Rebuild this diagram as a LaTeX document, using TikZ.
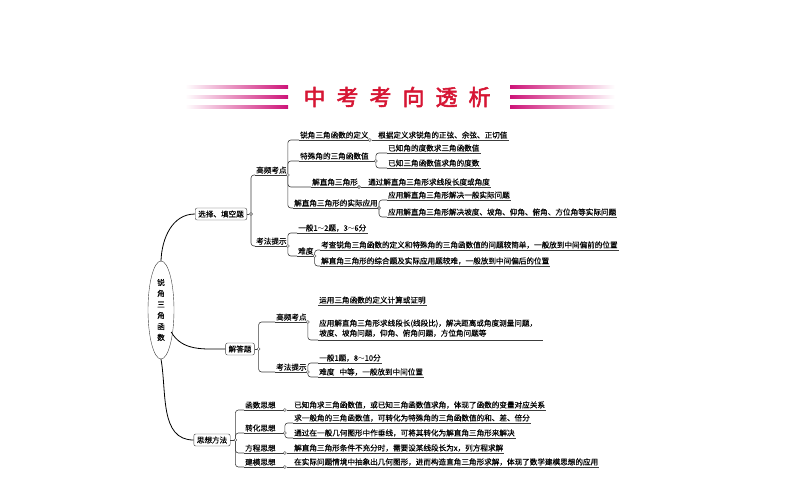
\documentclass[tikz,border=0pt]{standalone}
\usepackage{fontspec}
\setmainfont[FakeBold=0.3]{Noto Sans CJK SC}
\newfontfamily\titlefont[FakeBold=2.5]{Noto Sans CJK SC}
\usetikzlibrary{positioning, calc, shapes.geometric}
\definecolor{titlered}{RGB}{214,22,52}
\definecolor{stripe}{RGB}{205,20,120}
\definecolor{linegray}{RGB}{60,60,60}

\begin{document}
\begin{tikzpicture}[x=1pt, y=1pt, >=stealth]
    \tikzset{
        lf/.style={anchor=south west, inner xsep=1pt, inner ysep=1.2pt, font=\fontsize{7.6}{10}\selectfont, align=left},
        box/.style={draw=linegray, rounded corners=2pt, inner xsep=3pt, inner ysep=2.5pt, font=\fontsize{7.6}{9}\selectfont},
        uline/.style={draw=linegray, line width=0.6pt},
        branch/.style={draw=linegray, line width=0.6pt, rounded corners=3pt},
        dot/.style={circle, draw=linegray, fill=white, inner sep=0pt, minimum size=3pt},
        stripeL/.style={left color=white, right color=stripe},
        stripeR/.style={left color=stripe, right color=white}
    }
    \useasboundingbox (0,0) rectangle (794,-495);

    % title
    \node[font=\titlefont\fontsize{22}{24}\selectfont, text=titlered] (title) at (397,-97)
        {中\hspace{11pt}考\hspace{11pt}考\hspace{11pt}向\hspace{11pt}透\hspace{11pt}析};
    \foreach \yy in {-87,-97,-107} {
        \fill[stripeL] (185,\yy-1.6) rectangle (288,\yy+1.6);
        \fill[stripeR] (510,\yy-1.6) rectangle (615,\yy+1.6);
    }

    % root
    \node[draw=linegray, ellipse, minimum width=26pt, minimum height=98pt, inner sep=0pt,
          font=\fontsize{7.6}{11}\selectfont, align=center] (root) at (161,-310)
        {锐\\角\\三\\角\\函\\数};

    % level 1
    \node[box] (xz) at (221,-214) {选择、填空题};
    \node[box] (jd) at (240,-349) {解答题};
    \node[box] (sx) at (212,-440) {思想方法};
    \draw[line width=0.8pt] (root.north) to[out=88, in=180] (xz.west);
    \draw[line width=0.8pt] ($(root.east)+(-3,-22)$) to[out=-60, in=180] (jd.west);
    \draw[line width=0.8pt] (root.south) to[out=-80, in=180] (sx.west);
    \node[dot] (xzd) at ($(xz.east)+(4,0)$) {};
    \node[dot] (jdd) at ($(jd.east)+(4,0)$) {};
    \node[dot] (sxd) at ($(sx.east)+(5,0)$) {};
    \draw[uline] (xz.east) -- (xzd);
    \draw[uline] (jd.east) -- (jdd);
    \draw[uline] (sx.east) -- (sxd);

    % ---------- 选择、填空题
    \node[lf] (gp1) at (255,-175) {高频考点};
    \node[lf] (kf1) at (255,-246) {考法提示};
    \draw[uline] (gp1.south west) -- (gp1.south east);
    \draw[uline] (kf1.south west) -- (kf1.south east);
    \draw[branch] (xzd) |- (gp1.south west);
    \draw[branch] (xzd) |- (kf1.south west);
    \node[dot] (gp1d) at (gp1.south east) {};
    \node[dot] (kf1d) at (kf1.south east) {};

    % 高频考点
    \node[lf] (dy) at (299,-140) {锐角三角函数的定义};
    \node[lf] (ts) at (299,-161) {特殊角的三角函数值\hspace{6pt}};
    \node[lf] (jz) at (311,-187) {解直角三角形};
    \node[lf] (sj) at (293,-208) {解直角三角形的实际应用};
    \foreach \n in {dy,ts,jz,sj} {
        \draw[uline] (\n.south west) -- (\n.south east);
        \draw[branch] (gp1d) |- (\n.south west);
    }
    \node[dot] (dyd) at (dy.south east) {};
    \node[dot] (tsd) at (ts.south east) {};
    \node[dot] (jzd) at (jz.south east) {};
    \node[dot] (sjd) at (sj.south east) {};

    \node[lf] (dy1) at (377,-140) {根据定义求锐角的正弦、余弦、正切值};
    \node[lf] (ts1) at (387,-153) {已知角的度数求三角函数值};
    \node[lf] (ts2) at (387,-168) {已知三角函数值求角的度数};
    \node[lf] (jz1) at (367,-187) {通过解直角三角形求线段长度或角度};
    \node[lf] (sj1) at (387,-200) {应用解直角三角形解决一般实际问题};
    \node[lf] (sj2) at (387,-217) {应用解直角三角形解决坡度、坡角、仰角、俯角、方位角等实际问题};
    \draw[uline] (dyd) -- (dy1.south east);
    \draw[uline] (jzd) -- (jz1.south east);
    \foreach \n/\p in {ts1/tsd, ts2/tsd, sj1/sjd, sj2/sjd} {
        \draw[uline] (\n.south west) -- (\n.south east);
        \draw[branch] (\p) |- (\n.south west);
    }

    % 考法提示
    \node[lf] (fs1) at (297,-233) {一般1$\sim$2题，3$\sim$6分};
    \node[lf] (nd1) at (297,-256) {难度};
    \foreach \n in {fs1,nd1} {
        \draw[uline] (\n.south west) -- (\n.south east);
        \draw[branch] (kf1d) |- (\n.south west);
    }
    \node[dot] (nd1d) at (nd1.south east) {};
    \node[lf] (nd1a) at (320,-250) {考查锐角三角函数的定义和特殊角的三角函数值的问题较简单，一般放到中间偏前的位置};
    \node[lf] (nd1b) at (320,-266) {解直角三角形的综合题及实际应用题较难，一般放到中间偏后的位置};
    \foreach \n in {nd1a,nd1b} {
        \draw[uline] (\n.south west) -- (\n.south east);
        \draw[branch] (nd1d) |- (\n.south west);
    }

    % ---------- 解答题
    \node[lf] (gp2) at (275,-322) {高频考点};
    \node[lf] (kf2) at (275,-372) {考法提示};
    \foreach \n in {gp2,kf2} {
        \draw[uline] (\n.south west) -- (\n.south east);
        \draw[branch] (jdd) |- (\n.south west);
    }
    \node[dot] (gp2d) at (gp2.south east) {};
    \node[dot] (kf2d) at (kf2.south east) {};
    \node[lf] (gp2a) at (318,-305) {运用三角函数的定义计算或证明};
    \node[lf, inner ysep=3pt] (gp2b) at (318,-340) {应用解直角三角形求线段长(线段比)，解决距离或角度测量问题，\\坡度、坡角问题，仰角、俯角问题，方位角问题等};
    \draw[uline] (gp2a.south west) -- (gp2a.south east);
    \draw[uline] (gp2b.south west) -- ($(gp2b.south west)+(225,0)$);
    \draw[branch] (gp2d) |- (gp2b.south west);
    \node[lf] (fs2) at (318,-363) {一般1题，8$\sim$10分};
    \node[lf] (nd2) at (318,-377) {难度\hspace{5pt}中等，一般放到中间位置};
    \foreach \n in {fs2,nd2} {
        \draw[uline] (\n.south west) -- (\n.south east);
        \draw[branch] (kf2d) |- (\n.south west);
    }

    % ---------- 思想方法
    \node[lf] (hs) at (244,-410) {函数思想};
    \node[lf] (zh) at (244,-433) {转化思想};
    \node[lf] (fc) at (244,-453) {方程思想};
    \node[lf] (jm) at (244,-467) {建模思想};
    \foreach \n in {hs,zh,fc,jm} {
        \draw[uline] (\n.south west) -- ($(\n.south east)+(8,0)$);
        \draw[branch] (sxd) |- (\n.south west);
        \node[dot] (d\n) at ($(\n.south east)+(8,0)$) {};
    }
    \node[lf] (hs1) at (293,-410) {已知角求三角函数值，或已知三角函数值求角，体现了函数的变量对应关系};
    \node[lf] (zh1) at (293,-423) {求一般角的三角函数值，可转化为特殊角的三角函数值的和、差、倍分};
    \node[lf] (zh2) at (293,-438) {通过在一般几何图形中作垂线，可将其转化为解直角三角形来解决};
    \node[lf] (fc1) at (293,-453) {解直角三角形条件不充分时，需要设某线段长为\emph{x}，列方程求解};
    \node[lf] (jm1) at (293,-467) {在实际问题情境中抽象出几何图形，进而构造直角三角形求解，体现了数学建模思想的应用};
    \draw[uline] (dhs) -- (hs1.south east);
    \draw[uline] (dfc) -- (fc1.south east);
    \draw[uline] (djm) -- (jm1.south east);
    \foreach \n in {zh1,zh2} {
        \draw[uline] (\n.south west) -- (\n.south east);
        \draw[branch] (dzh) |- (\n.south west);
    }
\end{tikzpicture}
\end{document}
